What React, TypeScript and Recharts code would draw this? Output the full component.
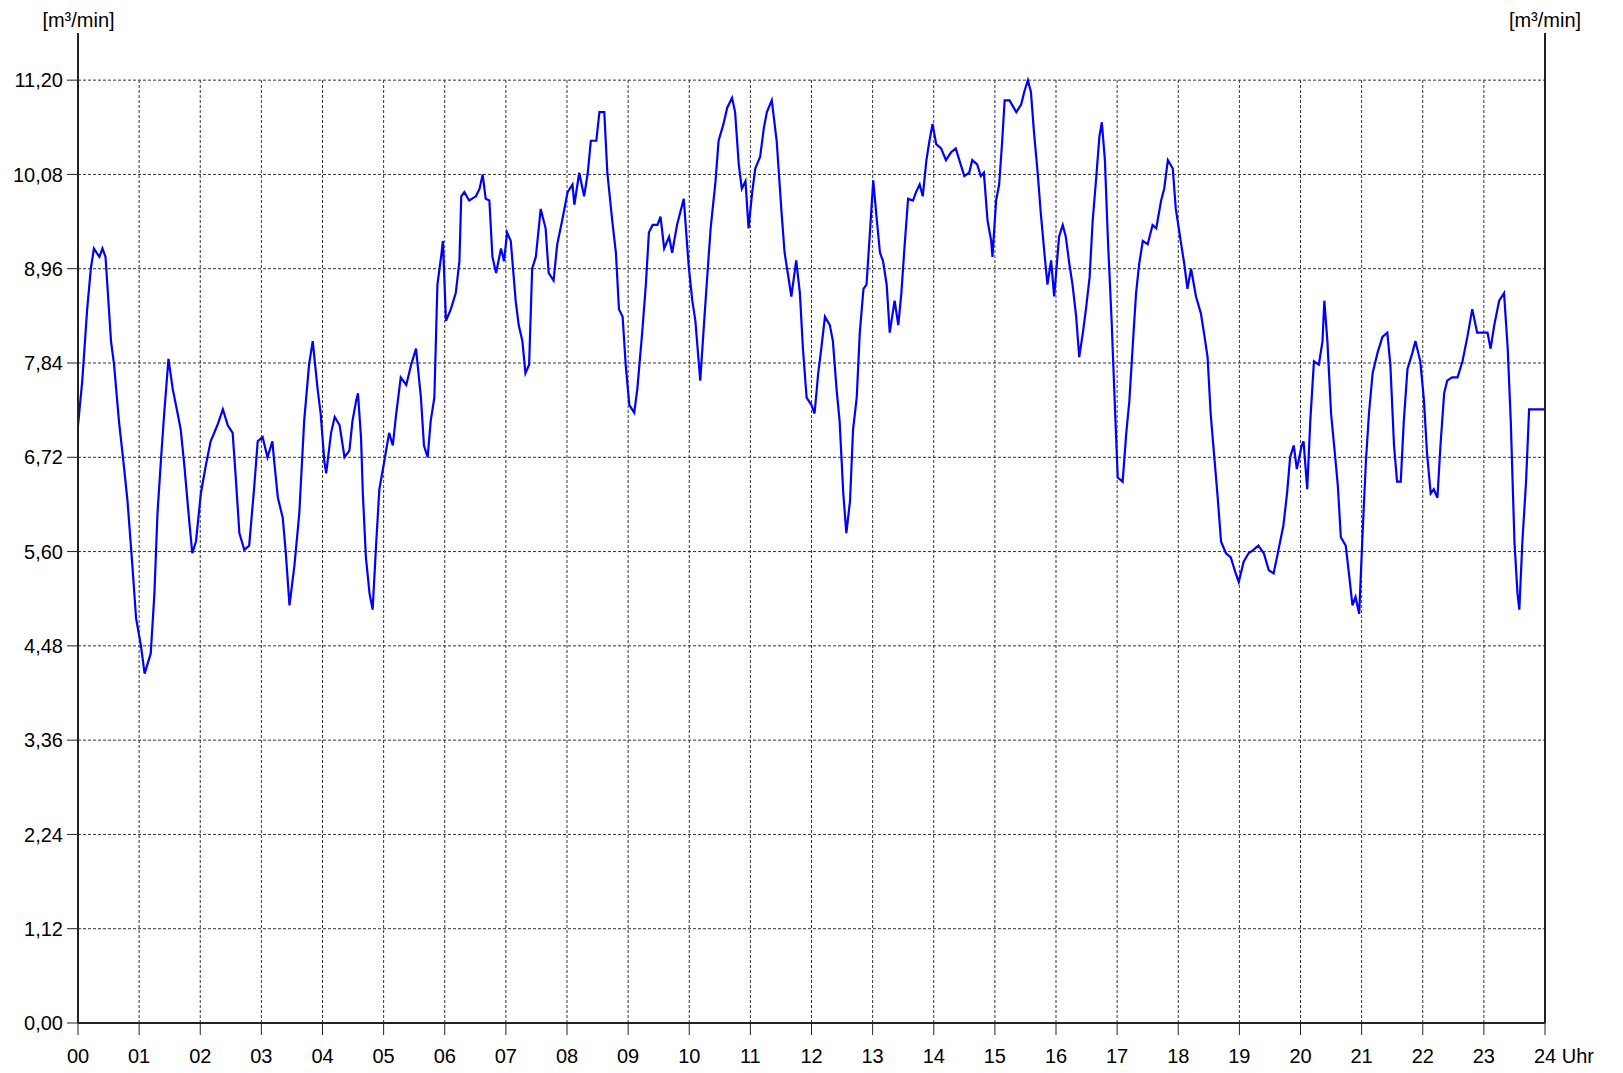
import React from 'react';
import { CartesianGrid, Line, LineChart, ReferenceLine, XAxis, YAxis } from 'recharts';

// Durchfluss über den Tag, Stunden als Dezimalzahl
const hours = [
  0.0, 0.07, 0.15, 0.21, 0.26, 0.35, 0.4, 0.45, 0.48, 0.54, 0.59, 0.67, 0.75, 0.81, 0.89, 0.95,
  1.03, 1.09, 1.19, 1.25, 1.3, 1.36, 1.41, 1.48, 1.55, 1.63, 1.68, 1.74, 1.82, 1.87, 1.93,
  2.01, 2.09, 2.17, 2.28, 2.37, 2.45, 2.53, 2.58, 2.64, 2.72, 2.8, 2.88, 2.94,
  3.02, 3.1, 3.18, 3.21, 3.27, 3.35, 3.4, 3.46, 3.54, 3.62, 3.7, 3.78, 3.84, 3.92, 3.97,
  4.03, 4.06, 4.14, 4.2, 4.28, 4.36, 4.44, 4.49, 4.55, 4.58, 4.63, 4.66, 4.71, 4.77, 4.82, 4.88, 4.93,
  5.01, 5.09, 5.15, 5.2, 5.28, 5.37, 5.45, 5.53, 5.61, 5.66, 5.72, 5.77, 5.83, 5.88, 5.94, 5.97,
  6.02, 6.1, 6.18, 6.24, 6.27, 6.32, 6.4, 6.51, 6.57, 6.62, 6.67, 6.73, 6.78, 6.84, 6.92, 6.97,
  7.02, 7.08, 7.16, 7.21, 7.27, 7.32, 7.38, 7.43, 7.49, 7.57, 7.65, 7.7, 7.78, 7.84, 7.92,
  8.01, 8.09, 8.12, 8.2, 8.28, 8.34, 8.39, 8.48, 8.53, 8.61, 8.66, 8.74, 8.8, 8.85, 8.91, 8.96,
  9.02, 9.1, 9.15, 9.23, 9.29, 9.34, 9.4, 9.48, 9.53, 9.59, 9.67, 9.72, 9.8, 9.91, 9.99,
  10.05, 10.1, 10.18, 10.24, 10.29, 10.35, 10.43, 10.48, 10.56, 10.62, 10.7, 10.75, 10.81, 10.86, 10.92, 10.97,
  11.03, 11.08, 11.16, 11.22, 11.27, 11.35, 11.43, 11.51, 11.56, 11.62, 11.67, 11.75, 11.81, 11.86, 11.92,
  12.0, 12.05, 12.11, 12.16, 12.22, 12.3, 12.35, 12.41, 12.46, 12.52, 12.57, 12.63, 12.68, 12.74, 12.79, 12.85, 12.9, 12.96,
  13.01, 13.07, 13.12, 13.17, 13.23, 13.28, 13.36, 13.42, 13.47, 13.52, 13.58, 13.66, 13.71, 13.77, 13.82, 13.88, 13.93, 13.98,
  14.04, 14.12, 14.2, 14.28, 14.36, 14.44, 14.5, 14.58, 14.63, 14.71, 14.77, 14.82, 14.88, 14.94, 14.96,
  15.02, 15.07, 15.12, 15.16, 15.24, 15.35, 15.43, 15.48, 15.54, 15.59, 15.64, 15.7, 15.75, 15.81, 15.86, 15.92, 15.97,
  16.05, 16.11, 16.16, 16.22, 16.27, 16.33, 16.38, 16.44, 16.49, 16.55, 16.6, 16.66, 16.71, 16.75, 16.8, 16.85, 16.91, 16.96,
  17.01, 17.09, 17.15, 17.2, 17.26, 17.31, 17.36, 17.42, 17.5, 17.58, 17.64, 17.72, 17.77, 17.83, 17.91, 17.96,
  18.04, 18.1, 18.15, 18.21, 18.29, 18.37, 18.42, 18.48, 18.53, 18.59, 18.64, 18.7, 18.78, 18.86, 18.94, 18.99,
  19.07, 19.15, 19.23, 19.31, 19.4, 19.48, 19.56, 19.64, 19.72, 19.78, 19.83, 19.89, 19.94,
  20.02, 20.05, 20.11, 20.16, 20.22, 20.3, 20.36, 20.39, 20.44, 20.5, 20.55, 20.61, 20.66, 20.74, 20.8, 20.85, 20.9, 20.96,
  21.01, 21.07, 21.12, 21.18, 21.26, 21.34, 21.42, 21.47, 21.53, 21.58, 21.64, 21.69, 21.75, 21.83, 21.88, 21.96,
  22.02, 22.07, 22.13, 22.18, 22.24, 22.29, 22.35, 22.4, 22.48, 22.57, 22.65, 22.73, 22.81, 22.89, 22.97,
  23.06, 23.11, 23.17, 23.25, 23.33, 23.39, 23.44, 23.5, 23.55, 23.58, 23.63, 23.69, 23.74, 23.82, 24.0,
];

const flow = [
  7.1, 7.63, 8.48, 8.96, 9.2, 9.1, 9.2, 9.1, 8.77, 8.1, 7.82, 7.15, 6.62, 6.2, 5.43, 4.81,
  4.48, 4.15, 4.39, 5.1, 6.05, 6.72, 7.24, 7.89, 7.53, 7.24, 7.05, 6.62, 5.96, 5.58, 5.72,
  6.29, 6.62, 6.91, 7.1, 7.29, 7.1, 7.01, 6.49, 5.82, 5.62, 5.67, 6.34, 6.91,
  6.96, 6.72, 6.91, 6.67, 6.24, 6.0, 5.58, 4.96, 5.43, 6.05, 7.15, 7.82, 8.1, 7.53, 7.24,
  6.67, 6.53, 7.01, 7.2, 7.1, 6.72, 6.8, 7.15, 7.39, 7.48, 6.96, 6.29, 5.53, 5.1, 4.91, 5.72, 6.34,
  6.67, 7.01, 6.86, 7.2, 7.67, 7.58, 7.82, 8.01, 7.43, 6.86, 6.72, 7.15, 7.43, 8.77, 9.1, 9.29,
  8.34, 8.48, 8.67, 9.05, 9.82, 9.87, 9.77, 9.82, 9.91, 10.08, 9.79, 9.77, 9.1, 8.91, 9.2, 9.05,
  9.39, 9.29, 8.58, 8.29, 8.1, 7.72, 7.82, 8.96, 9.1, 9.67, 9.44, 8.91, 8.82, 9.25, 9.53,
  9.87, 9.96, 9.72, 10.1, 9.82, 10.1, 10.48, 10.48, 10.82, 10.82, 10.1, 9.53, 9.15, 8.48, 8.39, 7.82,
  7.34, 7.25, 7.53, 8.2, 8.77, 9.39, 9.48, 9.48, 9.58, 9.2, 9.34, 9.15, 9.48, 9.79, 9.0,
  8.58, 8.34, 7.63, 8.29, 8.82, 9.44, 10.0, 10.48, 10.68, 10.87, 10.99, 10.82, 10.2, 9.91, 10.0, 9.44,
  9.87, 10.15, 10.29, 10.63, 10.82, 10.96, 10.48, 9.63, 9.15, 8.87, 8.63, 9.06, 8.67, 8.01, 7.43,
  7.34, 7.24, 7.72, 8.01, 8.39, 8.29, 8.1, 7.53, 7.15, 6.29, 5.82, 6.2, 7.05, 7.43, 8.2, 8.72, 8.77, 9.44,
  10.01, 9.53, 9.15, 9.05, 8.77, 8.2, 8.58, 8.29, 8.67, 9.2, 9.79, 9.77, 9.87, 9.96, 9.82, 10.25, 10.48, 10.68,
  10.44, 10.39, 10.25, 10.34, 10.39, 10.2, 10.06, 10.1, 10.25, 10.2, 10.06, 10.1, 9.53, 9.29, 9.1,
  9.77, 9.96, 10.48, 10.96, 10.96, 10.82, 10.91, 11.06, 11.2, 11.06, 10.58, 10.1, 9.63, 9.15, 8.77, 9.06, 8.63,
  9.34, 9.48, 9.34, 9.01, 8.77, 8.39, 7.91, 8.2, 8.48, 8.86, 9.53, 10.06, 10.53, 10.7, 10.25, 9.29, 8.34, 7.39,
  6.48, 6.43, 7.01, 7.39, 8.1, 8.67, 9.01, 9.29, 9.25, 9.48, 9.44, 9.77, 9.91, 10.25, 10.15, 9.67,
  9.29, 9.01, 8.72, 8.96, 8.63, 8.43, 8.2, 7.91, 7.24, 6.72, 6.29, 5.72, 5.58, 5.53, 5.34, 5.24,
  5.48, 5.58, 5.62, 5.67, 5.58, 5.38, 5.34, 5.62, 5.91, 6.29, 6.72, 6.86, 6.58,
  6.86, 6.91, 6.34, 7.15, 7.86, 7.82, 8.1, 8.58, 8.1, 7.24, 6.86, 6.39, 5.77, 5.67, 5.29, 4.96, 5.06, 4.86,
  5.72, 6.67, 7.24, 7.72, 7.96, 8.15, 8.2, 7.82, 6.86, 6.43, 6.43, 7.15, 7.77, 7.96, 8.1, 7.86,
  7.39, 6.77, 6.29, 6.34, 6.24, 6.86, 7.48, 7.63, 7.67, 7.67, 7.86, 8.15, 8.48, 8.2, 8.2,
  8.2, 8.01, 8.29, 8.58, 8.67, 8.01, 7.15, 5.72, 5.1, 4.91, 5.72, 6.43, 7.29, 7.29, 7.29,
];

const hourTicks = [0, 1, 2, 3, 4, 5, 6, 7, 8, 9, 10, 11, 12, 13, 14, 15, 16, 17, 18, 19, 20, 21, 22, 23, 24];
const flowTicks = [0, 1.12, 2.24, 3.36, 4.48, 5.6, 6.72, 7.84, 8.96, 10.08, 11.2];
const unitLabel = '[m³/min]';

const FONT = '"Liberation Sans", Arial, sans-serif';
const AXIS = '#222';
const GRID = '#333';

const data = hours.map((h, i) => ({ hour: h, flow: flow[i] }));

function formatFlow(v: number): string {
  return v.toFixed(2).replace('.', ',');
}

function HourTick(props: any) {
  const { x, y, payload } = props;
  const v: number = payload.value;
  const label = v.toString().padStart(2, '0');
  if (v === 24) {
    return (
      <text x={x - 11} y={y} dy="0.71em" textAnchor="start" fontSize={20} fontFamily={FONT} fill="#000">
        {label} Uhr
      </text>
    );
  }
  return (
    <text x={x} y={y} dy="0.71em" textAnchor="middle" fontSize={20} fontFamily={FONT} fill="#000">
      {label}
    </text>
  );
}

const unitStyle: React.CSSProperties = {
  position: 'absolute',
  top: 10,
  transform: 'translateX(-50%)',
  fontFamily: FONT,
  fontSize: 20,
  lineHeight: '20px',
  color: '#000',
  whiteSpace: 'nowrap',
};

export default function App() {
  return (
    <div style={{ position: 'absolute', left: 0, top: 0, width: 1623, height: 1073, background: '#fff' }}>
      <div style={{ ...unitStyle, left: 78.5 }}>{unitLabel}</div>
      <div style={{ ...unitStyle, left: 1545 }}>{unitLabel}</div>
      <LineChart width={1623} height={1073} data={data} margin={{ top: 33, right: 0, bottom: 0, left: 0 }}>
        <CartesianGrid
          yAxisId="left"
          vertical={false}
          stroke={GRID}
          strokeDasharray="3 2"
          horizontalValues={flowTicks.slice(1)}
        />
        {hourTicks.slice(1, -1).map((h) => (
          <ReferenceLine
            key={h}
            yAxisId="left"
            segment={[
              { x: h, y: 0 },
              { x: h, y: 11.2 },
            ]}
            stroke={GRID}
            strokeDasharray="3 2"
            ifOverflow="visible"
          />
        ))}
        <XAxis
          dataKey="hour"
          type="number"
          domain={[0, 24]}
          ticks={hourTicks}
          interval={0}
          height={50}
          tick={<HourTick />}
          tickSize={12}
          tickMargin={14}
          axisLine={{ stroke: AXIS, strokeWidth: 2 }}
          tickLine={{ stroke: AXIS, strokeWidth: 1 }}
        />
        <YAxis
          yAxisId="left"
          type="number"
          domain={[0, 11.76]}
          ticks={flowTicks}
          interval={0}
          width={78}
          tickFormatter={formatFlow}
          tick={{ fontSize: 20, fill: '#000', fontFamily: FONT }}
          tickSize={11}
          tickMargin={4}
          axisLine={{ stroke: AXIS, strokeWidth: 2 }}
          tickLine={{ stroke: AXIS, strokeWidth: 1 }}
        />
        <YAxis
          yAxisId="right"
          orientation="right"
          type="number"
          domain={[0, 11.76]}
          ticks={flowTicks}
          interval={0}
          width={78}
          tickFormatter={formatFlow}
          tick={{ fontSize: 20, fill: '#000', fontFamily: FONT, textAnchor: 'start' }}
          tickSize={10}
          tickMargin={7}
          axisLine={{ stroke: AXIS, strokeWidth: 2 }}
          tickLine={{ stroke: AXIS, strokeWidth: 1 }}
        />
        <Line
          yAxisId="left"
          type="linear"
          dataKey="flow"
          stroke="#0000ff"
          strokeWidth={2.2}
          dot={false}
          isAnimationActive={false}
        />
      </LineChart>
    </div>
  );
}
